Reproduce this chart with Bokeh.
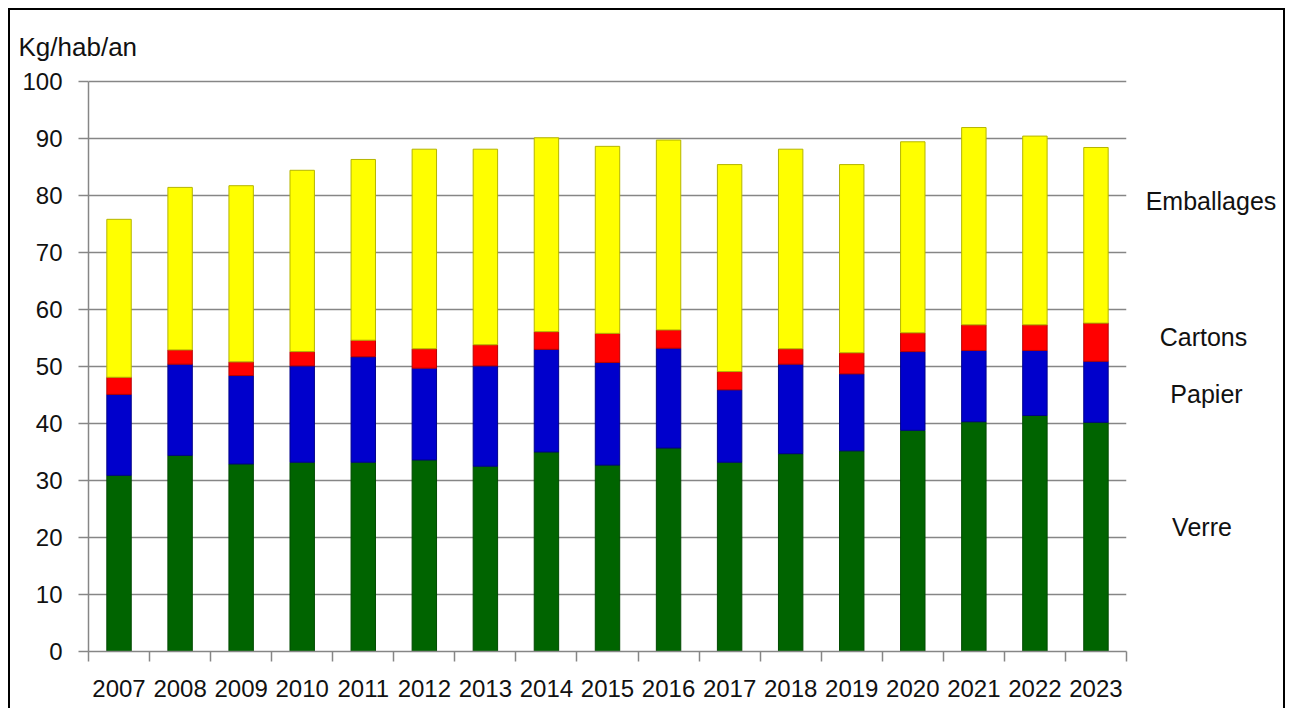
from bokeh.plotting import figure
from bokeh.layouts import row
from bokeh.models import (FactorRange, Range1d, LinearAxis, FixedTicker,
                          ColumnDataSource)
from bokeh.core.properties import value
from bokeh.embed import file_html
from bokeh.resources import INLINE

# ---- data (kg / habitant / an) ----
years = ["2007", "2008", "2009", "2010", "2011", "2012", "2013", "2014", "2015",
         "2016", "2017", "2018", "2019", "2020", "2021", "2022", "2023"]
verre = [30.9, 34.4, 32.9, 33.2, 33.2, 33.6, 32.5, 35.0, 32.7,
         35.7, 33.2, 34.7, 35.2, 38.8, 40.3, 41.4, 40.2]
papier = [14.2, 16.0, 15.5, 16.9, 18.5, 16.1, 17.6, 18.0, 18.0,
          17.5, 12.7, 15.7, 13.5, 13.8, 12.5, 11.4, 10.7]
cartons = [3.0, 2.5, 2.4, 2.5, 2.9, 3.4, 3.7, 3.1, 5.1,
           3.2, 3.2, 2.7, 3.7, 3.3, 4.5, 4.5, 6.7]
emballages = [27.7, 28.5, 30.9, 31.8, 31.7, 35.0, 34.3, 34.0, 32.8,
              33.3, 36.3, 35.0, 33.0, 33.5, 34.6, 33.1, 30.8]
series_names = ["Emballages", "Cartons", "Papier", "Verre"]
y_ticks = [0, 10, 20, 30, 40, 50, 60, 70, 80, 90, 100]
unit_label = "Kg/hab/an"

# ---- styles / layout ----
FONT = "Liberation Sans"
GRAY = "#868686"
TXT = "#111111"
BORDER = "2px solid black"
fills = ["#006400", "#0000CC", "#FF0000", "#FFFF00"]
edges = ["#004a00", "#00008a", "#b80000", "#b5b500"]
# label placement in the side panel (pixels from its left edge, data y)
name_x = [74.5, 67.0, 70.0, 65.5]
name_y = [79.0, 55.2, 45.1, 21.8]

src = ColumnDataSource(dict(year=years, verre=verre, papier=papier,
                            cartons=cartons, emballages=emballages))

yr = Range1d(0, 100.5)
p = figure(x_range=FactorRange(*years), y_range=yr,
           width=1128, height=700, output_backend="svg", toolbar_location=None,
           x_axis_type=None, min_border_left=78, min_border_right=12,
           min_border_top=68, min_border_bottom=59,
           title=unit_label)
p.styles = {"border-left": BORDER, "border-top": BORDER}
p.outline_line_color = None
p.background_fill_color = "white"
p.border_fill_color = "white"

p.title.align = "left"
p.title.offset = -70
p.title.standoff = 33
p.title.text_font = FONT
p.title.text_font_size = "26px"
p.title.text_font_style = "normal"
p.title.text_color = TXT

p.vbar_stack(["verre", "papier", "cartons", "emballages"], x="year", width=0.4,
             source=src, fill_color=fills, line_color=edges, line_width=1)

# y axis
yax = p.yaxis[0]
yax.ticker = FixedTicker(ticks=y_ticks)
yax.bounds = (0, 100)
yax.axis_line_color = GRAY
yax.axis_line_width = 1.5
yax.major_tick_line_color = GRAY
yax.major_tick_line_width = 1.5
yax.major_tick_in = 0
yax.major_tick_out = 10
yax.minor_tick_line_color = None
yax.major_label_text_font = FONT
yax.major_label_text_font_size = "24px"
yax.major_label_text_color = TXT
yax.major_label_standoff = 16
p.ygrid.grid_line_color = GRAY
p.ygrid.grid_line_width = 1.5
p.xgrid.grid_line_color = None

# x axis: labels at category centres, tick marks at boundaries
n = len(years)
centers = [i + 0.5 for i in range(n)]
bounds = [float(i) for i in range(n + 1)]
xax = LinearAxis(ticker=FixedTicker(ticks=centers, minor_ticks=bounds),
                 major_label_overrides={c: y for c, y in zip(centers, years)})
xax.axis_line_color = GRAY
xax.axis_line_width = 1.5
xax.major_tick_line_color = None
xax.major_tick_in = 0
xax.major_tick_out = 0
xax.minor_tick_line_color = GRAY
xax.minor_tick_line_width = 1.5
xax.minor_tick_in = 0
xax.minor_tick_out = 10
xax.major_label_text_font = FONT
xax.major_label_text_font_size = "24px"
xax.major_label_text_color = TXT
xax.major_label_standoff = 18
p.add_layout(xax, "below")

# side panel with the series names
p2 = figure(x_range=Range1d(0, 149), y_range=yr, width=149, height=700,
            output_backend="svg", toolbar_location=None,
            x_axis_type=None, y_axis_type=None,
            min_border_left=0, min_border_right=0,
            min_border_top=68, min_border_bottom=59)
p2.styles = {"border-right": BORDER, "border-top": BORDER}
p2.outline_line_color = None
p2.grid.visible = False
p2.border_fill_color = "white"
lsrc = ColumnDataSource(dict(x=name_x, y=name_y, name=series_names))
p2.text(x="x", y="y", text="name", source=lsrc, text_align="center",
        text_baseline="middle", text_font=value(FONT),
        text_font_size=value("25px"), text_color=TXT)

layout = row(p, p2)
layout.styles = {"margin-left": "8px", "margin-top": "8px"}

open("out.html", "w").write(file_html(layout, INLINE))
